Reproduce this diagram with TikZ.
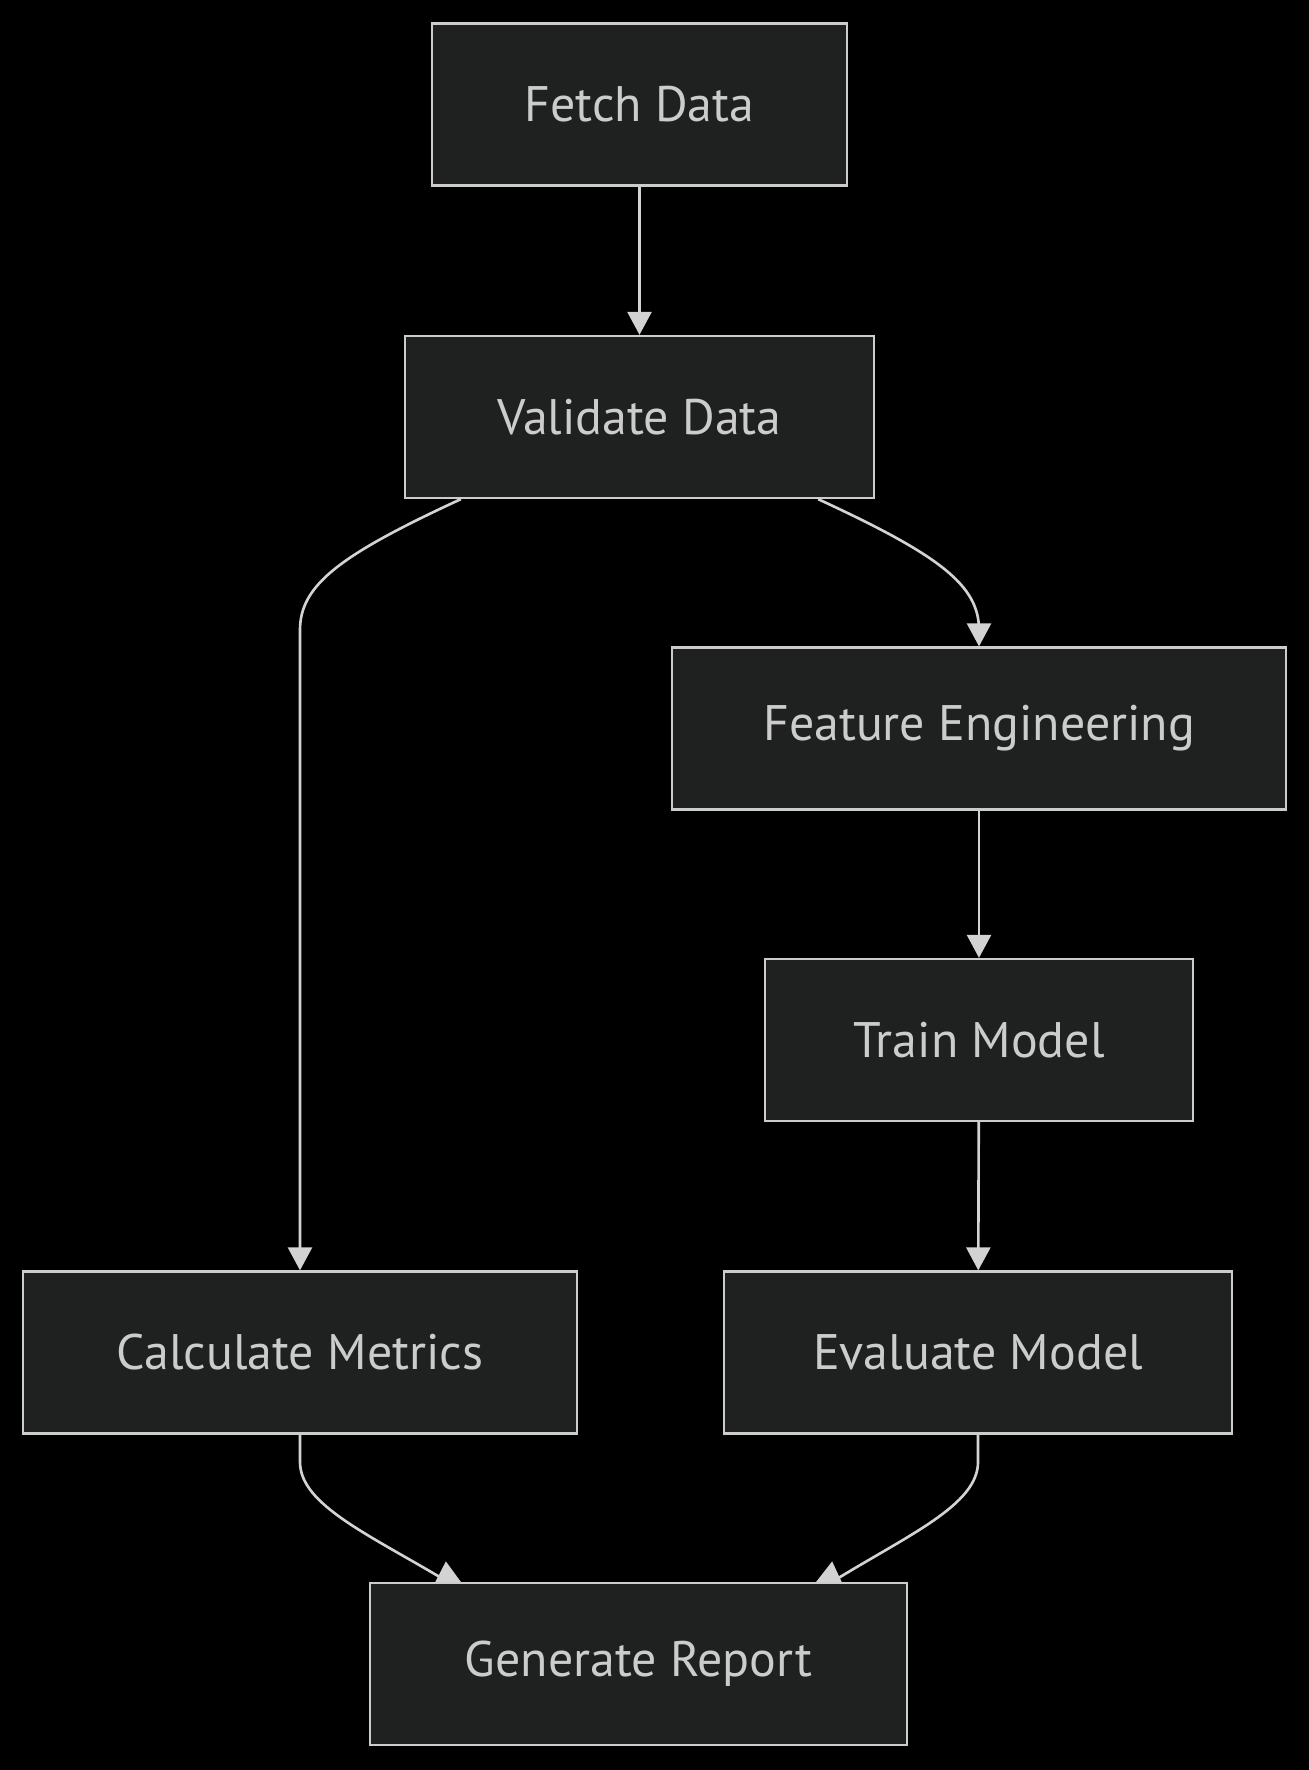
\documentclass[tikz,border=0pt]{standalone}
\usepackage{fontspec}
\setmainfont{PT Sans}
\usetikzlibrary{arrows.meta}
\definecolor{boxfill}{HTML}{1F2020}
\definecolor{boxline}{HTML}{CCCCCC}
\definecolor{linkline}{HTML}{D3D3D3}
\definecolor{labeltext}{HTML}{CCCCCC}
\tikzstyle{process} = [rectangle, draw=boxline, fill=boxfill, line width=0.65pt, minimum height=1.62cm, inner sep=0pt, text=labeltext, font=\fontsize{14.2}{17}\selectfont]
\tikzstyle{link} = [line width=0.75pt, draw=linkline, -{Triangle[length=2.3mm,width=2.4mm,fill=linkline]}]
\tikzstyle{plainlink} = [line width=0.75pt, draw=linkline]
\tikzstyle{uptip} = [fill=linkline]

\begin{document}
\begin{tikzpicture}
    \fill[black] (0,0) rectangle (13.09,-17.70);

    \node (fetch) [process,minimum width=4.15cm] at (6.395,-1.045) {Fetch Data};
    \node (validate) [process,minimum width=4.69cm] at (6.395,-4.17) {Validate Data};
    \node (feature) [process,minimum width=6.14cm] at (9.79,-7.285) {Feature Engineering};
    \node (train) [process,minimum width=4.28cm] at (9.79,-10.40) {Train Model};
    \node (calc) [process,minimum width=5.54cm] at (3.00,-13.525) {Calculate Metrics};
    \node (eval) [process,minimum width=5.08cm] at (9.78,-13.525) {Evaluate Model};
    \node (report) [process,minimum width=5.37cm] at (6.385,-16.64) {Generate Report};

    \coordinate (tipL) at ([xshift=7.9mm]report.north west);
    \coordinate (tipR) at ([xshift=-7.6mm]report.north east);

    \draw [link] (fetch) -- (validate);
    \draw [link] ([xshift=5.7mm]validate.south west) .. controls (3.40,-5.55) and (3.00,-5.85) .. (3.00,-6.30) -- (calc.north);
    \draw [link] ([xshift=-5.7mm]validate.south east) .. controls (9.39,-5.55) and (9.79,-5.85) .. (9.79,-6.30) -- (feature.north);
    \draw [link] (feature) -- (train);
    \draw [link] (train) -- (eval);
    \draw [plainlink] (calc.south) -- (3.00,-14.62) .. controls (3.00,-15.05) and (3.70,-15.35) .. (tipL);
    \draw [plainlink] (eval.south) -- (9.78,-14.62) .. controls (9.78,-15.05) and (9.08,-15.35) .. (tipR);

    % tips sit upright on the report box
    \fill [uptip] ([xshift=-1.25mm]tipL) -- ([xshift=1.3mm]tipL) -- ([xshift=-0.2mm,yshift=2.05mm]tipL) -- cycle;
    \fill [uptip] ([xshift=-1.6mm]tipR) -- ([xshift=0.95mm]tipR) -- ([yshift=2.05mm]tipR) -- cycle;
\end{tikzpicture}
\end{document}
